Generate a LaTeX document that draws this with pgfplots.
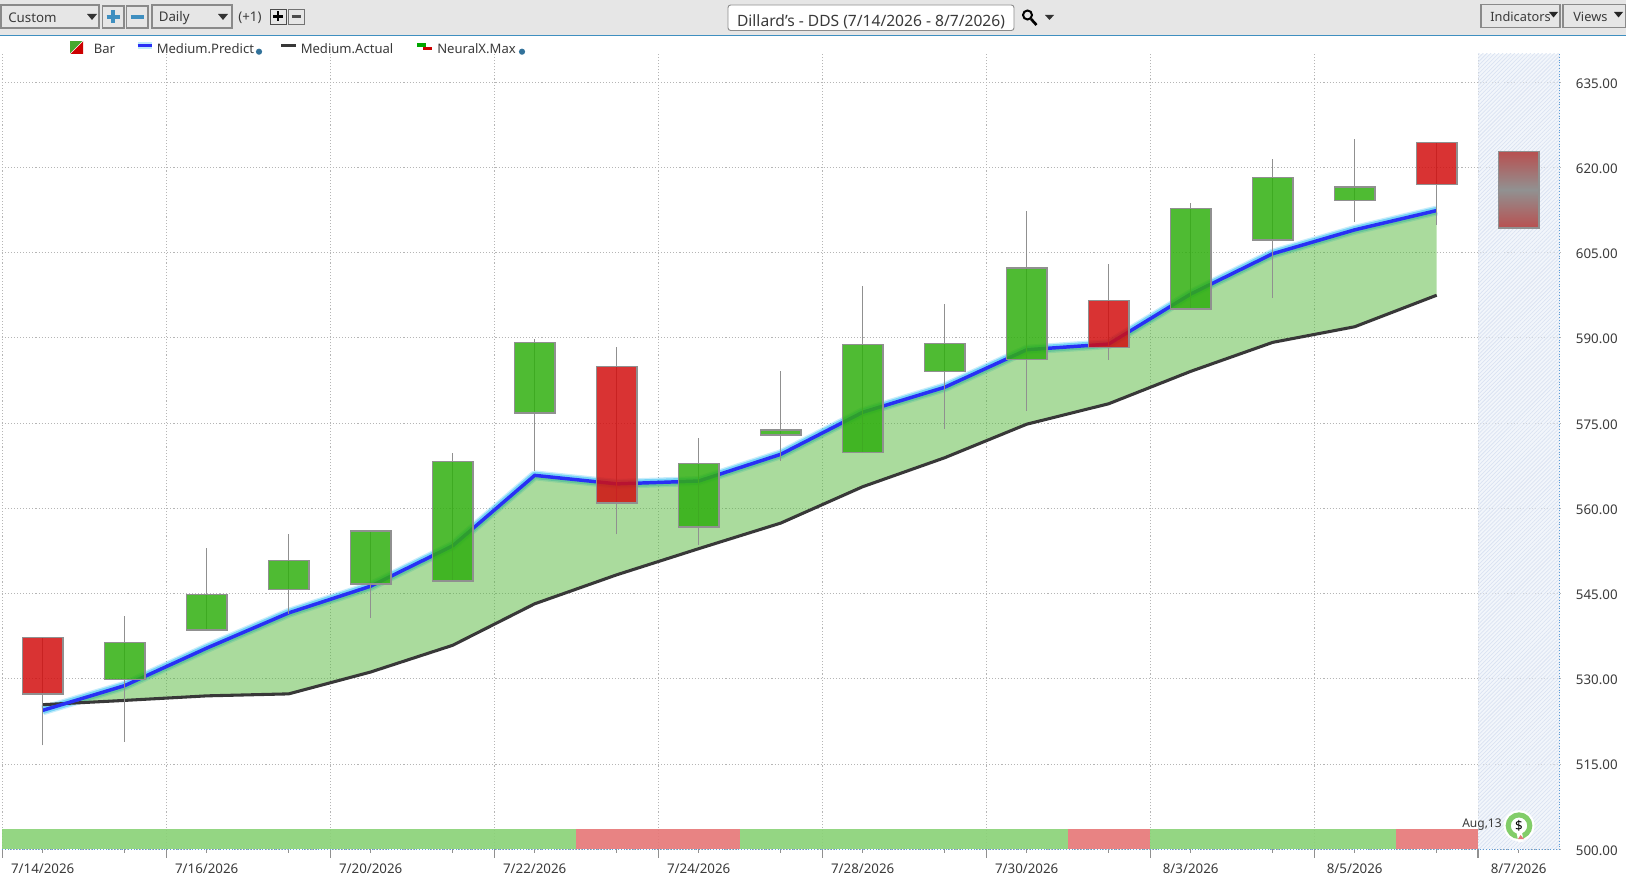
\documentclass[border=0pt]{standalone}
\usepackage{fontspec}
\setmainfont{Noto Sans}
\usepackage{pgfplots}
\pgfplotsset{compat=1.18}
\usetikzlibrary{patterns.meta}
\definecolor{cred}{RGB}{210,15,15}
\definecolor{cgreen}{RGB}{48,175,15}
\definecolor{lgreen}{HTML}{4FBB33}
\definecolor{wick}{HTML}{909090}
\definecolor{areag}{HTML}{55B83C}
\definecolor{predict}{HTML}{2830F5}
\definecolor{actual}{HTML}{383838}
\definecolor{gridc}{HTML}{B5B5B5}
\definecolor{txt}{HTML}{3A3A3A}
\definecolor{chrome}{HTML}{E6E6E6}
\definecolor{btn}{HTML}{8A8A8A}
\definecolor{sblue}{HTML}{3F8FC0}
\definecolor{stripg}{RGB}{139,210,120}
\definecolor{stripr}{RGB}{230,120,120}
\definecolor{ringg}{RGB}{130,205,105}
\definecolor{ringr}{RGB}{225,120,120}
\definecolor{fcred}{RGB}{184,80,80}
\definecolor{fcgray}{RGB}{145,145,145}
\definecolor{bandbg}{RGB}{232,238,247}
\definecolor{bandln}{RGB}{218,227,242}
\definecolor{banded}{RGB}{91,155,213}
% left edge, centre, right edge, low, body bottom, body top, high, colour
\newcommand\candle[8]{%
\addplot[draw=wick,line width=0.8pt] coordinates {(#2,#4)(#2,#7)};
\addplot[draw=wick,line width=1.1pt,fill=#8,fill opacity=0.85] coordinates {(#1,#5)(#3,#5)(#3,#6)(#1,#6)} -- cycle;}
\begin{document}
\begin{tikzpicture}
\useasboundingbox (0,0) rectangle (1219.5pt,656.25pt);
\begin{axis}[
  at={(1.275pt,19.275pt)},anchor=south west,
  scale only axis,width=1168.5pt,height=596.5pt,
  xmin=-0.5,xmax=18.5,ymin=500,ymax=639.95,
  axis line style={draw=none},
  xtick={0,1,...,18},
  xticklabels={7/14/2026,,7/16/2026,,7/20/2026,,7/22/2026,,7/24/2026,,7/28/2026,,7/30/2026,,8/3/2026,,8/5/2026,,8/7/2026},
  xtick pos=bottom,ytick pos=right,tick align=outside,
  major tick length=2.5pt,
  x tick style={draw=wick,line width=1pt},
  y tick style={draw=none},
  extra x ticks={-0.49,1.51,3.51,5.51,7.51,9.51,11.51,13.51,15.51,17.505},
  extra x tick labels={},
  extra x tick style={major tick length=6.5pt,xmajorgrids=true,tick style={draw=wick,line width=0.7pt}},
  ytick={500,515,...,635},
  ymajorgrids=true,
  grid style={draw=gridc,dash pattern=on 0.8pt off 1.5pt,line width=0.75pt},
  yticklabel pos=right,
  tick label style={font=\fontsize{10}{12}\selectfont,text=txt},
  /pgf/number format/assume math mode=true,
  yticklabel={\pgfmathprintnumber[fixed,fixed zerofill,precision=2]{\tick}},
  yticklabel style={anchor=east,xshift=44.5pt,yshift=-0.9pt},
  xticklabel style={inner sep=0pt,yshift=-8.4pt},
  clip=false,
]
% signal strip
\addplot[draw=none,fill=stripg,fill opacity=0.92] coordinates {(-0.5,500)(6.5,500)(6.5,503.57)(-0.5,503.57)} -- cycle;
\addplot[draw=none,fill=stripr,fill opacity=0.92] coordinates {(6.5,500)(8.5,500)(8.5,503.57)(6.5,503.57)} -- cycle;
\addplot[draw=none,fill=stripg,fill opacity=0.92] coordinates {(8.5,500)(12.5,500)(12.5,503.57)(8.5,503.57)} -- cycle;
\addplot[draw=none,fill=stripr,fill opacity=0.92] coordinates {(12.5,500)(13.5,500)(13.5,503.57)(12.5,503.57)} -- cycle;
\addplot[draw=none,fill=stripg,fill opacity=0.92] coordinates {(13.5,500)(16.5,500)(16.5,503.57)(13.5,503.57)} -- cycle;
\addplot[draw=none,fill=stripr,fill opacity=0.92] coordinates {(16.5,500)(17.5,500)(17.5,503.57)(16.5,503.57)} -- cycle;
% forecast band
\addplot[draw=none,fill=bandbg,fill opacity=0.55] coordinates {(17.505,500)(18.5,500)(18.5,639.95)(17.505,639.95)} -- cycle;
\addplot[draw=none,pattern={Lines[angle=45,distance=2.1pt,line width=0.55pt]},pattern color=bandln] coordinates {(17.505,500)(18.5,500)(18.5,639.95)(17.505,639.95)} -- cycle;
\addplot[draw=banded,dash pattern=on 0.8pt off 1.3pt,line width=0.8pt] coordinates {(18.5,639.95)(18.5,500)(-0.5,500)};
% forecast candle
\addplot[draw=wick,line width=1.1pt,top color=fcred,bottom color=fcred,middle color=fcgray] coordinates {(17.755,609.3)(18.245,609.3)(18.245,622.8)(17.755,622.8)} -- cycle;
% predict glow, under and over the area
\addplot[draw=cyan,line width=7.5pt,opacity=0.22,line join=round] coordinates {(0,524.45)(1,528.8)(2,535.4)(3,541.6)(4,546.3)(5,553.4)(6,565.8)(7,564.3)(8,564.8)(9,569.5)(10,576.9)(11,581.3)(12,587.9)(13,588.9)(14,597.7)(15,604.8)(16,609)(17,612.4)};
\addplot[draw=cyan,line width=5.5pt,opacity=0.4,line join=round] coordinates {(0,524.45)(1,528.8)(2,535.4)(3,541.6)(4,546.3)(5,553.4)(6,565.8)(7,564.3)(8,564.8)(9,569.5)(10,576.9)(11,581.3)(12,587.9)(13,588.9)(14,597.7)(15,604.8)(16,609)(17,612.4)};
% area between the two mediums
\addplot[draw=none,fill=areag,fill opacity=0.5] coordinates {(0.278,525.66)(1,528.8)(2,535.4)(3,541.6)(4,546.3)(5,553.4)(6,565.8)(7,564.3)(8,564.8)(9,569.5)(10,576.9)(11,581.3)(12,587.9)(13,588.9)(14,597.7)(15,604.8)(16,609)(17,612.4)(17,597.5)(16,591.95)(15,589.2)(14,584.1)(13,578.4)(12,574.8)(11,568.9)(10,563.8)(9,557.4)(8,552.9)(7,548.3)(6,543.2)(5,535.9)(4,531.2)(3,527.35)(2,527)(1,526.2)} -- cycle;
% actual
\addplot[draw=actual,line width=2.3pt] coordinates {(0,525.45)(1,526.2)(2,527)(3,527.35)(4,531.2)(5,535.9)(6,543.2)(7,548.3)(8,552.9)(9,557.4)(10,563.8)(11,568.9)(12,574.8)(13,578.4)(14,584.1)(15,589.2)(16,591.95)(17,597.5)};
% predict
\addplot[draw=predict,line width=2.6pt] coordinates {(0,524.45)(1,528.8)(2,535.4)(3,541.6)(4,546.3)(5,553.4)(6,565.8)(7,564.3)(8,564.8)(9,569.5)(10,576.9)(11,581.3)(12,587.9)(13,588.9)(14,597.7)(15,604.8)(16,609)(17,612.4)};
% candles
\candle{-0.245}{0}{0.245}{518.3}{527.3}{537.3}{537.3}{cred}
\candle{0.755}{1}{1.245}{518.9}{529.9}{536.4}{541.05}{cgreen}
\candle{1.755}{2}{2.245}{538.6}{538.6}{544.85}{553.1}{cgreen}
\candle{2.755}{3}{3.245}{541.4}{545.7}{550.8}{555.4}{cgreen}
\candle{3.755}{4}{4.245}{540.7}{546.7}{556}{556}{cgreen}
\candle{4.755}{5}{5.245}{547.2}{547.2}{568.2}{569.8}{cgreen}
\candle{5.755}{6}{6.245}{566.6}{576.8}{589.2}{589.8}{cgreen}
\candle{6.755}{7}{7.245}{555.4}{560.9}{585}{588.4}{cred}
\candle{7.755}{8}{8.245}{553.5}{556.7}{567.9}{572.3}{cgreen}
\candle{8.755}{9}{9.245}{568.4}{572.9}{573.8}{584.1}{cgreen}
\candle{9.755}{10}{10.245}{569.8}{569.8}{588.8}{599.2}{cgreen}
\candle{10.755}{11}{11.245}{574}{584.1}{589}{595.9}{cgreen}
\candle{11.755}{12}{12.245}{577.1}{586.2}{602.3}{612.3}{cgreen}
\candle{12.755}{13}{13.245}{586.1}{588.3}{596.6}{603}{cred}
\candle{13.755}{14}{14.245}{595.05}{595.05}{612.8}{613.8}{cgreen}
\candle{14.755}{15}{15.245}{597}{607.2}{618.2}{621.4}{cgreen}
\candle{15.755}{16}{16.245}{610.4}{614.2}{616.5}{625}{cgreen}
\candle{16.755}{17}{17.245}{609.9}{617}{624.4}{624.4}{cred}
\end{axis}
\begin{scope}[yshift=656.25pt,x=0.75pt,y=-0.75pt,every node/.style={inner sep=0pt,text=txt,font=\fontsize{10}{12}\selectfont}]
\fill[chrome] (0,0) rectangle (1626,35);
\draw[sblue,line width=1pt] (0,35.3) -- (1626,35.3);
% left toolbar
\draw[btn,line width=0.9pt,fill=chrome] (1,5) rectangle (99,28);
\node[anchor=west] at (8,18) {Custom};
\fill[black!80] (87,14) -- (97,14) -- (92,20) -- cycle;
\draw[btn,line width=0.9pt] (102.5,6) rectangle (124,28);
\draw[sblue,line width=2.6pt] (106.5,17) -- (120,17) (113.2,10.5) -- (113.2,23.5);
\draw[btn,line width=0.9pt] (126.5,6) rectangle (148,28);
\draw[sblue,line width=2.6pt] (130.5,17) -- (144,17);
\draw[btn,line width=0.9pt] (152,5) rectangle (232,28);
\node[anchor=west] at (158.5,18) {Daily};
\fill[black!80] (218,14) -- (228,14) -- (223,20) -- cycle;
\node[anchor=west] at (238,18) {(+1)};
\draw[black!70,line width=0.7pt] (270,9) rectangle (286,24);
\draw[black,line width=1.8pt] (273,16.5) -- (283,16.5) (278,11.5) -- (278,21.5);
\draw[black!55,line width=0.7pt] (288,9) rectangle (304,24);
\draw[black!70,line width=1.8pt] (291.5,16.5) -- (300.5,16.5);
% title
\draw[black!45,line width=0.7pt,fill=white,rounded corners=2pt] (728,5) rectangle (1014,30.5);
\node[font=\fontsize{11.7}{14}\selectfont] at (871,21.5) {Dillard's - DDS (7/14/2026 - 8/7/2026)};
\draw[black,line width=1.5pt] (1027.5,15) circle (4.5);
\draw[black,line width=2pt] (1031,19) -- (1036.5,25);
\fill[black!80] (1045,15) -- (1054,15) -- (1049.5,20) -- cycle;
% right toolbar
\draw[btn,line width=0.9pt] (1481,4.5) rectangle (1560,27.5);
\node[anchor=west,font=\fontsize{9.6}{12}\selectfont] at (1490,17) {Indicators};
\fill[black!85] (1549,12) -- (1558,12) -- (1553.5,17.5) -- cycle;
\draw[btn,line width=0.9pt] (1563,4.5) rectangle (1626,27.5);
\node[anchor=west,font=\fontsize{9.6}{12}\selectfont] at (1573,17) {Views};
\fill[black!85] (1614,12) -- (1623,12) -- (1618.5,17.5) -- cycle;
% legend
\fill[lgreen!90!black] (70,41) rectangle (83,54);
\fill[red!80!black] (83,41) -- (83,54) -- (70,54) -- cycle;
\draw[white,line width=0.5pt] (70,54) -- (83,41);
\node[anchor=west,font=\fontsize{9.8}{12}\selectfont] at (93.5,49) {Bar};
\draw[cyan!25,line width=5pt] (137.5,45.5) -- (152,45.5);
\draw[predict,line width=2.3pt] (137.5,45.5) -- (152,45.5);
\node[anchor=west,font=\fontsize{9.8}{12}\selectfont] at (156.5,49) {Medium.Predict};
\fill[sblue!80!black] (259,51.7) circle (3.1);
\draw[actual,line width=2.3pt] (281,45.5) -- (296,45.5);
\node[anchor=west,font=\fontsize{9.8}{12}\selectfont] at (300.5,49) {Medium.Actual};
\fill[green!65!black] (417,43.5) rectangle (426,47);
\fill[red!80!black] (423,47) rectangle (432,50.5);
\node[anchor=west,font=\fontsize{9.8}{12}\selectfont] at (437,49) {NeuralX.Max};
\fill[sblue!80!black] (522,51.7) circle (3.1);
% Aug,13 marker
\node[anchor=west,font=\fontsize{9}{11}\selectfont] at (1462,824.5) {Aug,13};
\fill[white] (1519,825.7) circle (15.5);
\draw[ringg,line width=3.8pt] (1519,825.7) circle (10.8);
\draw[white,line width=4pt] (1519,831) -- (1521,842);
\fill[ringr] (1520.5,835) -- (1524,839) -- (1518,839) -- cycle;
\node[text=black,font=\fontsize{10}{12}\selectfont] at (1519,826) {\$};
\end{scope}
\end{tikzpicture}
\end{document}
